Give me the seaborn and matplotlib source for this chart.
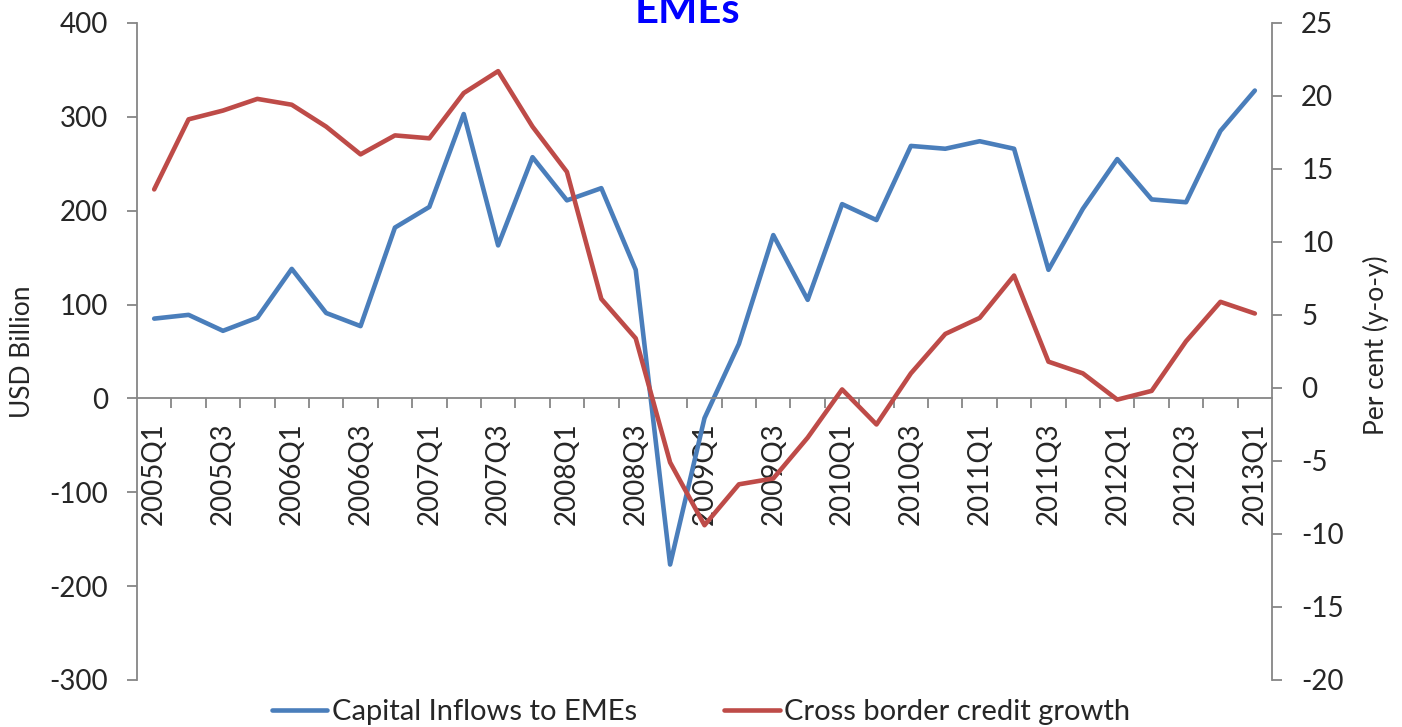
import numpy as np
import pandas as pd
import matplotlib
matplotlib.use("Agg")
import matplotlib.pyplot as plt
import seaborn as sns
from matplotlib.ticker import FixedLocator, MultipleLocator

# quarters 2005Q1 .. 2013Q1
quarters = [f"{y}Q{q}" for y in range(2005, 2014) for q in range(1, 5)][:33]

# capital inflows to EMEs, USD billion (left axis)
capital_inflows = [85, 89, 72, 86, 138, 91, 77, 182, 204, 303, 163, 257,
                   211, 224, 137, -177, -21, 58, 174, 105, 207, 190, 269, 266,
                   274, 266, 137, 202, 255, 212, 209, 285, 328]

# cross border credit growth, per cent y-o-y (right axis)
credit_growth = [13.6, 18.4, 19.0, 19.8, 19.4, 17.9, 16.0, 17.3, 17.1, 20.2, 21.7, 17.9,
                 14.8, 6.1, 3.4, -5.1, -9.4, -6.6, -6.2, -3.4, -0.1, -2.5, 1.0, 3.7,
                 4.8, 7.7, 1.8, 1.0, -0.8, -0.2, 3.2, 5.9, 5.1]

blue = "#4A7EBB"
red = "#BE4B48"
grey = "#868686"

df = pd.DataFrame({"pos": np.arange(len(quarters)),
                   "quarter": quarters,
                   "inflows": capital_inflows,
                   "credit": credit_growth})

sns.set_style("white")
plt.rcParams["font.family"] = ["Lato", "DejaVu Sans"]
plt.rcParams["axes.unicode_minus"] = False

fig, ax = plt.subplots(figsize=(14.02, 7.27), dpi=100)
fig.subplots_adjust(left=0.0977, right=0.9073, top=0.9684, bottom=0.0647)
ax2 = ax.twinx()

sns.lineplot(data=df, x="pos", y="inflows", ax=ax, color=blue, linewidth=3.3,
             label="Capital Inflows to EMEs", legend=False)
sns.lineplot(data=df, x="pos", y="credit", ax=ax2, color=red, linewidth=3.3,
             label="Cross border credit growth", legend=False)

ax.set_xlim(-0.5, len(quarters) - 0.5)
ax.set_ylim(-300, 400)
ax2.set_ylim(-20, 25)
ax.yaxis.set_major_locator(MultipleLocator(100))
ax2.yaxis.set_major_locator(MultipleLocator(5))

# x axis sits on zero, labels every other quarter
for a in (ax, ax2):
    for s in a.spines.values():
        s.set_color(grey)
        s.set_linewidth(1.3)
    a.spines["top"].set_visible(False)
ax2.spines["bottom"].set_visible(False)
ax2.spines["left"].set_visible(False)
ax.spines["right"].set_visible(False)
ax.spines["bottom"].set_position(("data", 0))

ax.set_xticks(df["pos"][::2])
ax.set_xticklabels(df["quarter"][::2], rotation=90, va="top")
ax.xaxis.set_minor_locator(FixedLocator(np.arange(0.5, len(quarters) - 0.5, 1)))
ax.tick_params(axis="x", which="major", length=0, pad=17, labelsize=20)
ax.tick_params(axis="x", which="minor", length=7, width=1.3, color=grey,
               direction="out", bottom=True)
ax.tick_params(axis="y", length=7, width=1.3, color=grey, direction="out",
               left=True, pad=14, labelsize=20)
ax2.tick_params(axis="y", length=7, width=1.3, color=grey, direction="out",
                right=True, pad=14, labelsize=20)

ax.set_xlabel("")
ax.set_ylabel("USD Billion", fontsize=19)
ax2.set_ylabel("Per cent (y-o-y)", fontsize=19)
ax.yaxis.set_label_coords(-0.090, 0.5)
ax2.yaxis.set_label_coords(1.080, 0.51)

fig.text(0.49, 0.968, "EMEs", color="#0000FF", fontsize=30, fontweight="bold",
         ha="center", va="baseline")

h1, l1 = ax.get_legend_handles_labels()
h2, l2 = ax2.get_legend_handles_labels()
fig.legend(h1 + h2, l1 + l2, loc="center", bbox_to_anchor=(0.5, 0.02), ncol=2,
           frameon=False, fontsize=21, handlelength=1.9, handletextpad=0.15,
           columnspacing=3.0)

fig.savefig("out.png", dpi=100)
